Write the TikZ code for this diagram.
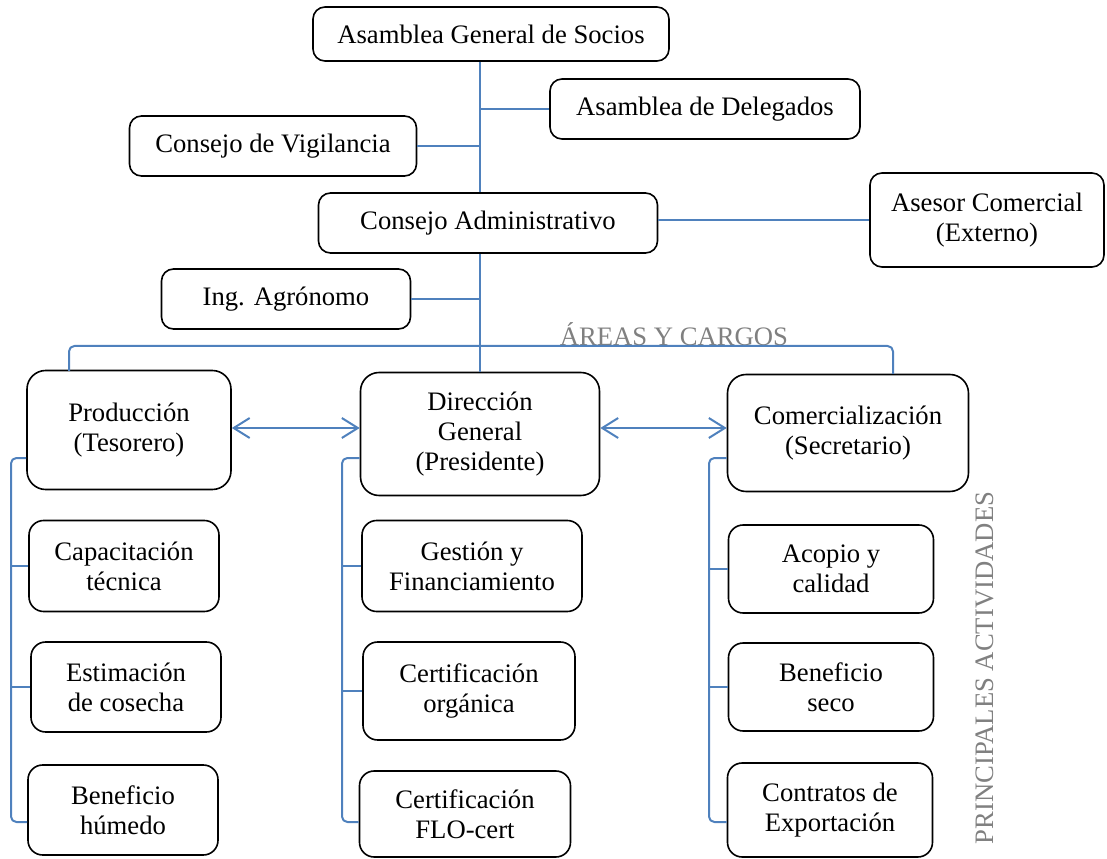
\documentclass[tikz,border=0pt]{standalone}
\usepackage{fontspec}
\setmainfont{Liberation Serif}
\usetikzlibrary{arrows.meta}
\definecolor{azul}{RGB}{79,129,189}
\definecolor{gris}{RGB}{128,128,128}
\begin{document}
\begin{tikzpicture}[x=0.75pt,y=-0.75pt, font=\fontsize{20}{22.5}\selectfont, line join=round,
  caja/.style={draw, line width=1.2pt, rounded corners=9pt, align=center, inner sep=0pt},
  grande/.style={caja, rounded corners=14pt},
  linea/.style={draw=azul, line width=1.5pt},
  flecha/.style={linea, {Straight Barb[length=12pt,width=15pt]}-{Straight Barb[length=12pt,width=15pt]}}]
\def\u{0.75pt}
\useasboundingbox (0,0) rectangle (1107,859);
% Órganos de gobierno
\node[caja, minimum width=356*\u, minimum height=54*\u] (ags) at (491,34) {Asamblea General de Socios};
\node[caja, minimum width=310*\u, minimum height=60*\u] (del) at (705,109) {Asamblea de Delegados};
\node[caja, minimum width=287*\u, minimum height=60*\u] (vig) at (273,146) {Consejo de Vigilancia};
\node[caja, minimum width=339*\u, minimum height=60*\u] (adm) at (488,223) {Consejo Administrativo};
\node[caja, minimum width=234*\u, minimum height=94*\u] (ase) at (987,220) {Asesor Comercial\\(Externo)};
\node[caja, minimum width=249*\u, minimum height=60*\u] (ing) at (286,299) {Ing. Agrónomo};
% Áreas y cargos
\node[grande, minimum width=204*\u, minimum height=119*\u] (pro) at (129,430) {Producción\\(Tesorero)};
\node[grande, minimum width=239*\u, minimum height=123*\u] (dir) at (480,434) {Dirección\\General\\(Presidente)};
\node[grande, minimum width=241*\u, minimum height=117*\u] (com) at (848,433) {Comercialización\\(Secretario)};
% Principales actividades
\node[caja, rounded corners=11pt, minimum width=190*\u, minimum height=91*\u] (cap) at (124,566) {Capacitación\\técnica};
\node[caja, rounded corners=11pt, minimum width=190*\u, minimum height=90*\u] (est) at (126,687) {Estimación\\de cosecha};
\node[caja, rounded corners=11pt, minimum width=190*\u, minimum height=90*\u] (hum) at (123,810) {Beneficio\\húmedo};
\node[caja, rounded corners=11pt, minimum width=220*\u, minimum height=91*\u] (ges) at (472,566) {Gestión y\\Financiamiento};
\node[caja, rounded corners=11pt, minimum width=212*\u, minimum height=98*\u] (org) at (469,691) {Certificación\\orgánica};
\node[caja, rounded corners=11pt, minimum width=211*\u, minimum height=86*\u] (flo) at (465,814) {Certificación\\FLO-cert};
\node[caja, rounded corners=11pt, minimum width=205*\u, minimum height=88*\u] (aco) at (831,569) {Acopio y\\calidad};
\node[caja, rounded corners=11pt, minimum width=205*\u, minimum height=88*\u] (sec) at (831,687) {Beneficio\\seco};
\node[caja, rounded corners=11pt, minimum width=205*\u, minimum height=94*\u] (exp) at (830,810) {Contratos de\\Exportación};
\node[text=gris, anchor=base] (areas) at (674,346) {ÁREAS Y CARGOS};
\node[text=gris, rotate=90] (act) at (985,668) {PRINCIPALES ACTIVIDADES};
% conectores
\coordinate (barra) at (480,346);
\coordinate (bi) at (69,371);
\coordinate (bd) at (893,374);
\coordinate (nivel) at (0,428);
\coordinate (alto) at (0,458);
\coordinate (ejeP) at (11,822);
\coordinate (ejeD) at (342,822);
\coordinate (ejeC) at (709,822);
\draw[linea] (ags.south -| dir.north) -- (adm.north -| dir.north);
\draw[linea] (adm.south -| dir.north) -- (dir.north);
\draw[linea] (del.west) -- (del.west -| dir.north);
\draw[linea] (vig.east) -- (vig.east -| dir.north);
\draw[linea] (ing.east) -- (ing.east -| dir.north);
\draw[linea] (ase.west) -- (ase.west -| adm.east);
\draw[linea, rounded corners=4pt] (bi) |- (barra) -| (bd);
\draw[flecha] (pro.east |- nivel) -- (dir.west |- nivel);
\draw[flecha] (dir.east |- nivel) -- (com.west |- nivel);
\draw[linea, rounded corners=4pt] (pro.west |- alto) -| (ejeP) -- (hum.west |- ejeP);
\draw[linea, rounded corners=4pt] (dir.west |- alto) -| (ejeD) -- (flo.west |- ejeD);
\draw[linea, rounded corners=4pt] (com.west |- alto) -| (ejeC) -- (exp.west |- ejeC);
\draw[linea] (cap.west) -- (cap.west -| ejeP);
\draw[linea] (est.west) -- (est.west -| ejeP);
\draw[linea] (ges.west) -- (ges.west -| ejeD);
\draw[linea] (org.west) -- (org.west -| ejeD);
\draw[linea] (aco.west) -- (aco.west -| ejeC);
\draw[linea] (sec.west) -- (sec.west -| ejeC);
\end{tikzpicture}
\end{document}
